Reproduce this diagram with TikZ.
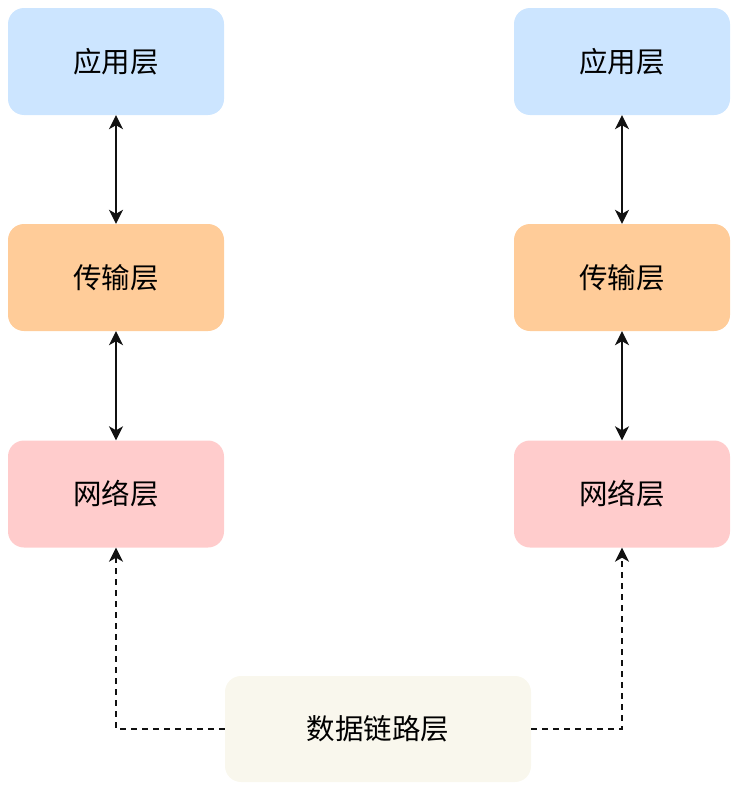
\documentclass[tikz,border=0pt]{standalone}
\usepackage{fontspec}
\newfontfamily\cjk{Noto Sans CJK SC}
\usetikzlibrary{arrows.meta}
\definecolor{cblue}{HTML}{CCE5FF}
\definecolor{corange}{HTML}{FFCC99}
\definecolor{cpink}{HTML}{FFCCCC}
\definecolor{cbeige}{HTML}{F9F7ED}
\definecolor{cline}{HTML}{111111}
\begin{document}
\begin{tikzpicture}[x=1pt,y=-1pt,
  layer/.style={rounded corners=16pt, minimum width=216pt, minimum height=107pt, inner sep=0pt,
    font=\cjk\fontsize{28.5}{32}\selectfont, text=black},
  tip/.style={},
  conn/.style={draw=cline, line width=1.6pt, -{Stealth[length=14pt,width=14pt,inset=4pt]}},
  biconn/.style={draw=cline, line width=1.6pt, {Stealth[length=14pt,width=14pt,inset=4pt]}-{Stealth[length=14pt,width=14pt,inset=4pt]}},
  dconn/.style={conn, dash pattern=on 6pt off 5pt}]
\useasboundingbox (0,0) rectangle (739,795);
\node[layer, fill=cblue] (a1) at (116,61.5) {应用层};
\node[layer, fill=corange] (t1) at (116,277.5) {传输层};
\node[layer, fill=cpink] (n1) at (116,494) {网络层};
\node[layer, fill=cblue] (a2) at (622,61.5) {应用层};
\node[layer, fill=corange] (t2) at (622,277.5) {传输层};
\node[layer, fill=cpink] (n2) at (622,494) {网络层};
\node[layer, fill=cbeige, minimum width=306pt, minimum height=106pt] (d) at (378,729) {数据链路层};
\draw[biconn] (a1) -- (t1);
\draw[biconn] (t1) -- (n1);
\draw[biconn] (a2) -- (t2);
\draw[biconn] (t2) -- (n2);
\draw[dconn] (d.west) -| (n1.south);
\draw[dconn] (d.east) -| (n2.south);
\end{tikzpicture}
\end{document}
